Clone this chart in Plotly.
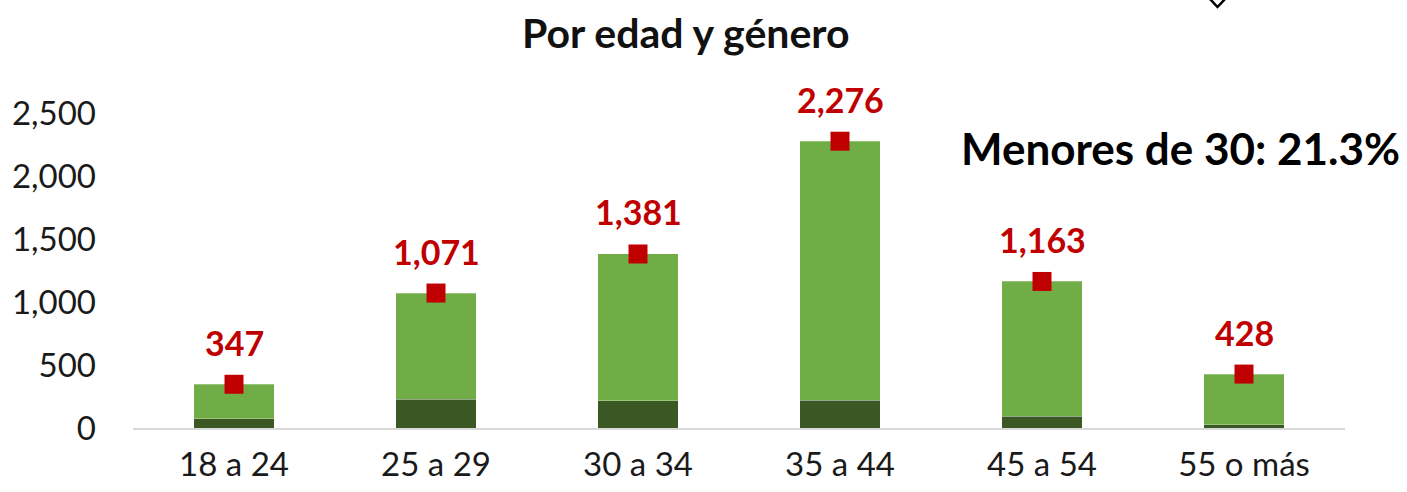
import plotly.graph_objects as go

categories = ["18 a 24", "25 a 29", "30 a 34", "35 a 44", "45 a 54", "55 o más"]
totals = [347, 1071, 1381, 2276, 1163, 428]
dark_part = [75, 230, 215, 220, 95, 25]
light_part = [t - d for t, d in zip(totals, dark_part)]
total_labels = ["347", "1,071", "1,381", "2,276", "1,163", "428"]
y_ticks = [0, 500, 1000, 1500, 2000, 2500]
y_tick_text = ["0", "500", "1,000", "1,500", "2,000", "2,500"]

FONT = "Lato"

# plot area in page pixels (body margin removed below)
PL, PR, PT, PB = 133, 1345, 113, 428

fig = go.Figure()
fig.add_trace(go.Bar(x=categories, y=dark_part,
                     marker=dict(color="#3A5724", line=dict(width=0.8, color="rgba(255,255,255,0.35)")),
                     width=0.4, showlegend=False))
fig.add_trace(go.Bar(x=categories, y=light_part,
                     marker=dict(color="#70AD47", line=dict(width=0.8, color="rgba(255,255,255,0.35)")),
                     width=0.4, showlegend=False))
fig.add_trace(go.Scatter(x=categories, y=totals, mode="markers",
                         marker=dict(symbol="square", size=19, color="#C00000"),
                         showlegend=False, cliponaxis=False))

for c, t, lab in zip(categories, totals, total_labels):
    fig.add_annotation(x=c, y=t, text=f"<b>{lab}</b>", showarrow=False, yshift=42,
                       font=dict(family=FONT, size=34, color="#C00000"))

def px(x):
    return (x - PL) / (PR - PL)

def py(y):
    return (PB - y) / (PB - PT)

fig.add_annotation(xref="paper", yref="paper", x=px(686), y=py(32), text="<b>Por edad y género</b>",
                   showarrow=False, xanchor="center", yanchor="middle",
                   font=dict(family=FONT, size=41, color="#111111"))

fig.add_annotation(xref="paper", yref="paper", x=px(1180), y=py(148),
                   text="<b>Menores de 30: 21.3%</b>", showarrow=False,
                   xanchor="center", yanchor="middle",
                   font=dict(family=FONT, size=44, color="#000000"))

# partially visible diamond marker at top edge
fig.add_shape(type="path", xref="paper", yref="paper",
              path=f"M {px(1209)} {py(-2)} L {px(1217.5)} {py(7)} L {px(1226)} {py(-2)}",
              line=dict(color="#000000", width=2.5))

fig.update_layout(
    barmode="stack",
    width=1407, height=492,
    margin=dict(l=PL, r=1407 - PR, t=PT, b=492 - PB),
    plot_bgcolor="white", paper_bgcolor="white",
    xaxis=dict(showgrid=False, showline=True, linecolor="#D9D9D9", linewidth=2, automargin=False,
               ticks="", tickfont=dict(family=FONT, size=33, color="#1A1A1A"), ticklabelstandoff=6),
    yaxis=dict(range=[0, 2500], tickvals=y_ticks, ticktext=y_tick_text, showgrid=False, automargin=False,
               zeroline=False, showline=False, ticks="",
               tickfont=dict(family=FONT, size=33, color="#1A1A1A"), ticklabelstandoff=36),
    font=dict(family=FONT),
)

fig.write_html("out.html", config={"displayModeBar": False},
               post_script="document.body.style.margin='0';document.body.style.overflow='hidden';")
